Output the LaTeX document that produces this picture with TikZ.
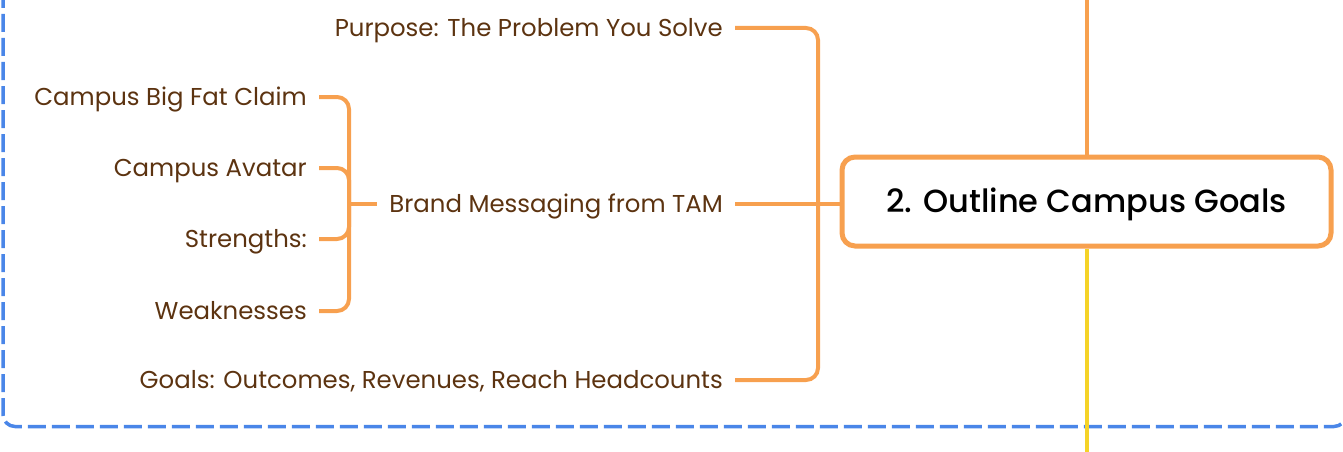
\documentclass[tikz,border=0pt]{standalone}
\usepackage{fontspec}
\setmainfont{Poppins}
\IfFontExistsTF{Poppins Medium}{\newfontfamily\cfont{Poppins Medium}}{\newfontfamily\cfont{Poppins}}
\definecolor{brn}{HTML}{5C3310}
\definecolor{org}{HTML}{F7A04F}
\definecolor{blu}{HTML}{4A86E8}
\definecolor{ylw}{HTML}{F5D327}
\tikzset{
  lbl/.style={anchor=east, inner sep=0pt, text height=17pt, text depth=0pt, text=brn, font=\fontsize{24.4}{28}\selectfont},
  br/.style={draw=org, line width=4pt, rounded corners=12pt},
  central/.style={draw=org, line width=5pt, rounded corners=13pt, fill=white, minimum width=489pt, minimum height=89pt, text height=22.4pt, text depth=0pt, font=\fontsize{32}{36}\selectfont\cfont},
  frame/.style={draw=blu, line width=3.5pt, dash pattern=on 18pt off 6pt, rounded corners=12pt}
}
\begin{document}
\begin{tikzpicture}[x=1pt,y=-1pt]
\useasboundingbox (0,0) rectangle (1343,452);
\clip (0,0) rectangle (1343,452);
\draw[frame] (3,-10) |- (1346,426.5) -- (1346,-10);
\node[central] (goal) at (1086.5,201.5) {2. Outline Campus Goals};
\draw[org, line width=4pt] (goal.north) -- (1086.5,0);
\draw[ylw, line width=4pt] (goal.south) -- (1086.5,452);
\node[lbl] (pur) at (723,28) {Purpose: The Problem You Solve};
\node[lbl] (brand) at (723,204) {Brand Messaging from TAM};
\node[lbl] (gls) at (723,380) {Goals: Outcomes, Revenues, Reach Headcounts};
\node[lbl] (claim) at (307,97) {Campus Big Fat Claim};
\node[lbl] (avatar) at (307,168) {Campus Avatar};
\node[lbl] (str) at (307,239) {Strengths:};
\node[lbl] (weak) at (307,311) {Weaknesses};
\coordinate (j1) at (818,204);
\coordinate (j2) at (349,204);
\draw[br] ([xshift=12pt]pur.east) -| (j1) |- ([xshift=12pt]gls.east);
\draw[br] ([xshift=12pt]brand.east) -- (goal.west |- j1);
\draw[br] ([xshift=12pt]claim.east) -| (j2) |- ([xshift=12pt]weak.east);
\draw[br] ([xshift=12pt]avatar.east) -| (j2);
\draw[br] ([xshift=12pt]str.east) -| (j2);
\draw[br] (j2) -- ([xshift=-12pt]brand.west);
\end{tikzpicture}
\end{document}
